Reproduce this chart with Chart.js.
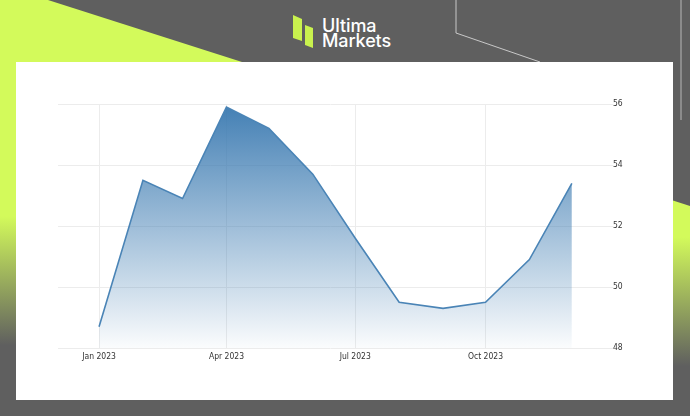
<!DOCTYPE html>
<html>
<head>
<meta charset="utf-8">
<script src="https://cdn.jsdelivr.net/npm/chart.js@4/dist/chart.umd.min.js"></script>
<style>
  html, body { margin: 0; padding: 0; }
  body { width: 690px; height: 416px; background: #5f5f5f; position: relative; overflow: hidden; }
  #decor { position: absolute; left: 0; top: 0; }
  .brand { position: absolute; left: 322px; color: #ffffff; font-family: Inter, "Noto Sans", sans-serif;
           font-size: 18px; line-height: 17px; font-weight: 500; letter-spacing: -0.1px; }
  #panel { position: absolute; left: 16px; top: 62px; width: 657px; height: 338px; background: #ffffff; }
  #chart { position: absolute; left: 16px; top: 62px; }
</style>
</head>
<body>
<svg id="decor" width="690" height="416">
  <defs>
    <linearGradient id="leftFade" x1="0" y1="0" x2="0" y2="416" gradientUnits="userSpaceOnUse">
      <stop offset="0" stop-color="#d3fa5b"/>
      <stop offset="0.52" stop-color="#d3fa5b"/>
      <stop offset="0.83" stop-color="#5f5f5f"/>
    </linearGradient>
    <linearGradient id="rightFade" x1="0" y1="0" x2="0" y2="416" gradientUnits="userSpaceOnUse">
      <stop offset="0.5" stop-color="#d3fa5b"/>
      <stop offset="0.57" stop-color="#d3fa5b"/>
      <stop offset="0.88" stop-color="#5f5f5f"/>
    </linearGradient>
  </defs>
  <polygon points="0,0 48,0 242,62 242,416 0,416" fill="url(#leftFade)"/>
  <polygon points="600,177 690,206 690,416 600,416" fill="url(#rightFade)"/>
  <polyline points="456,0 456,33 540,62" fill="none" stroke="#c8c8c8" stroke-width="1"/>
  <line x1="681" y1="0" x2="681" y2="120" stroke="#b8b8b8" stroke-width="1"/>
  <polygon points="293,15 302,19 302,41 293,38" fill="#c9f24e"/>
  <polygon points="305,25 313,28 313,48 305,45" fill="#c9f24e"/>
</svg>
<div class="brand" style="top:17px">Ultima</div>
<div class="brand" style="top:32px">Markets</div>
<div id="panel"></div>
<canvas id="chart" width="657" height="338"></canvas>
<script>
// Monthly readings, 2023
const months = ['2023-01', '2023-02', '2023-03', '2023-04', '2023-05', '2023-06',
                '2023-07', '2023-08', '2023-09', '2023-10', '2023-11', '2023-12'];
const values = [48.7, 53.5, 52.9, 55.9, 55.2, 53.7, 51.6, 49.5, 49.3, 49.5, 50.9, 53.4];

// Axis ticks
const xTickMonths = ['2023-01', '2023-04', '2023-07', '2023-10'];
const xTickLabels = ['Jan 2023', 'Apr 2023', 'Jul 2023', 'Oct 2023'];
const yTicks = [48, 50, 52, 54, 56];

// days since 1 Jan 2023, so the x axis is spaced like a time axis
function dayOf(ym) {
    const [y, m] = ym.split('-').map(Number);
    return (Date.UTC(y, m - 1, 1) - Date.UTC(2023, 0, 1)) / 86400000;
}

const points = months.map((m, i) => ({ x: dayOf(m), y: values[i] }));
const xTickDays = xTickMonths.map(dayOf);

const tickFont = { family: '"DejaVu Sans Condensed", "Liberation Sans", Arial, sans-serif', size: 8.5 };
const gridColor = '#ececec';

new Chart(document.getElementById('chart').getContext('2d'), {
    type: 'line',
    data: {
        datasets: [{
            data: points,
            borderColor: '#4a84b6',
            borderWidth: 1.6,
            pointRadius: 0,
            tension: 0,
            fill: 'start',
            backgroundColor: ctx => {
                const area = ctx.chart.chartArea;
                if (!area) return 'rgba(70,130,180,0.5)';
                const g = ctx.chart.ctx.createLinearGradient(0, area.top, 0, area.bottom);
                g.addColorStop(0, 'rgba(62,124,178,0.98)');
                g.addColorStop(1, 'rgba(62,124,178,0.02)');
                return g;
            }
        }]
    },
    options: {
        responsive: false,
        animation: false,
        layout: { padding: { left: 42, top: 42, right: 0, bottom: 0 } },
        plugins: { legend: { display: false }, tooltip: { enabled: false } },
        scales: {
            x: {
                type: 'linear',
                min: -29,
                max: 356,
                afterBuildTicks: scale => { scale.ticks = xTickDays.map(v => ({ value: v })); },
                afterFit: scale => { scale.height = 52; },
                grid: { color: gridColor, drawTicks: false },
                border: { display: false },
                ticks: {
                    padding: 4,
                    color: '#333',
                    font: tickFont,
                    maxRotation: 0,
                    autoSkip: false,
                    callback: v => xTickLabels[xTickDays.indexOf(v)] || ''
                }
            },
            y: {
                position: 'right',
                min: 48,
                max: 56,
                afterBuildTicks: scale => { scale.ticks = yTicks.map(v => ({ value: v })); },
                afterFit: scale => { scale.width = 70; },
                grid: { color: gridColor, drawTicks: true, tickLength: 10 },
                border: { display: false },
                ticks: { padding: 0, color: '#333', font: tickFont }
            }
        }
    }
});
</script>
</body>
</html>
